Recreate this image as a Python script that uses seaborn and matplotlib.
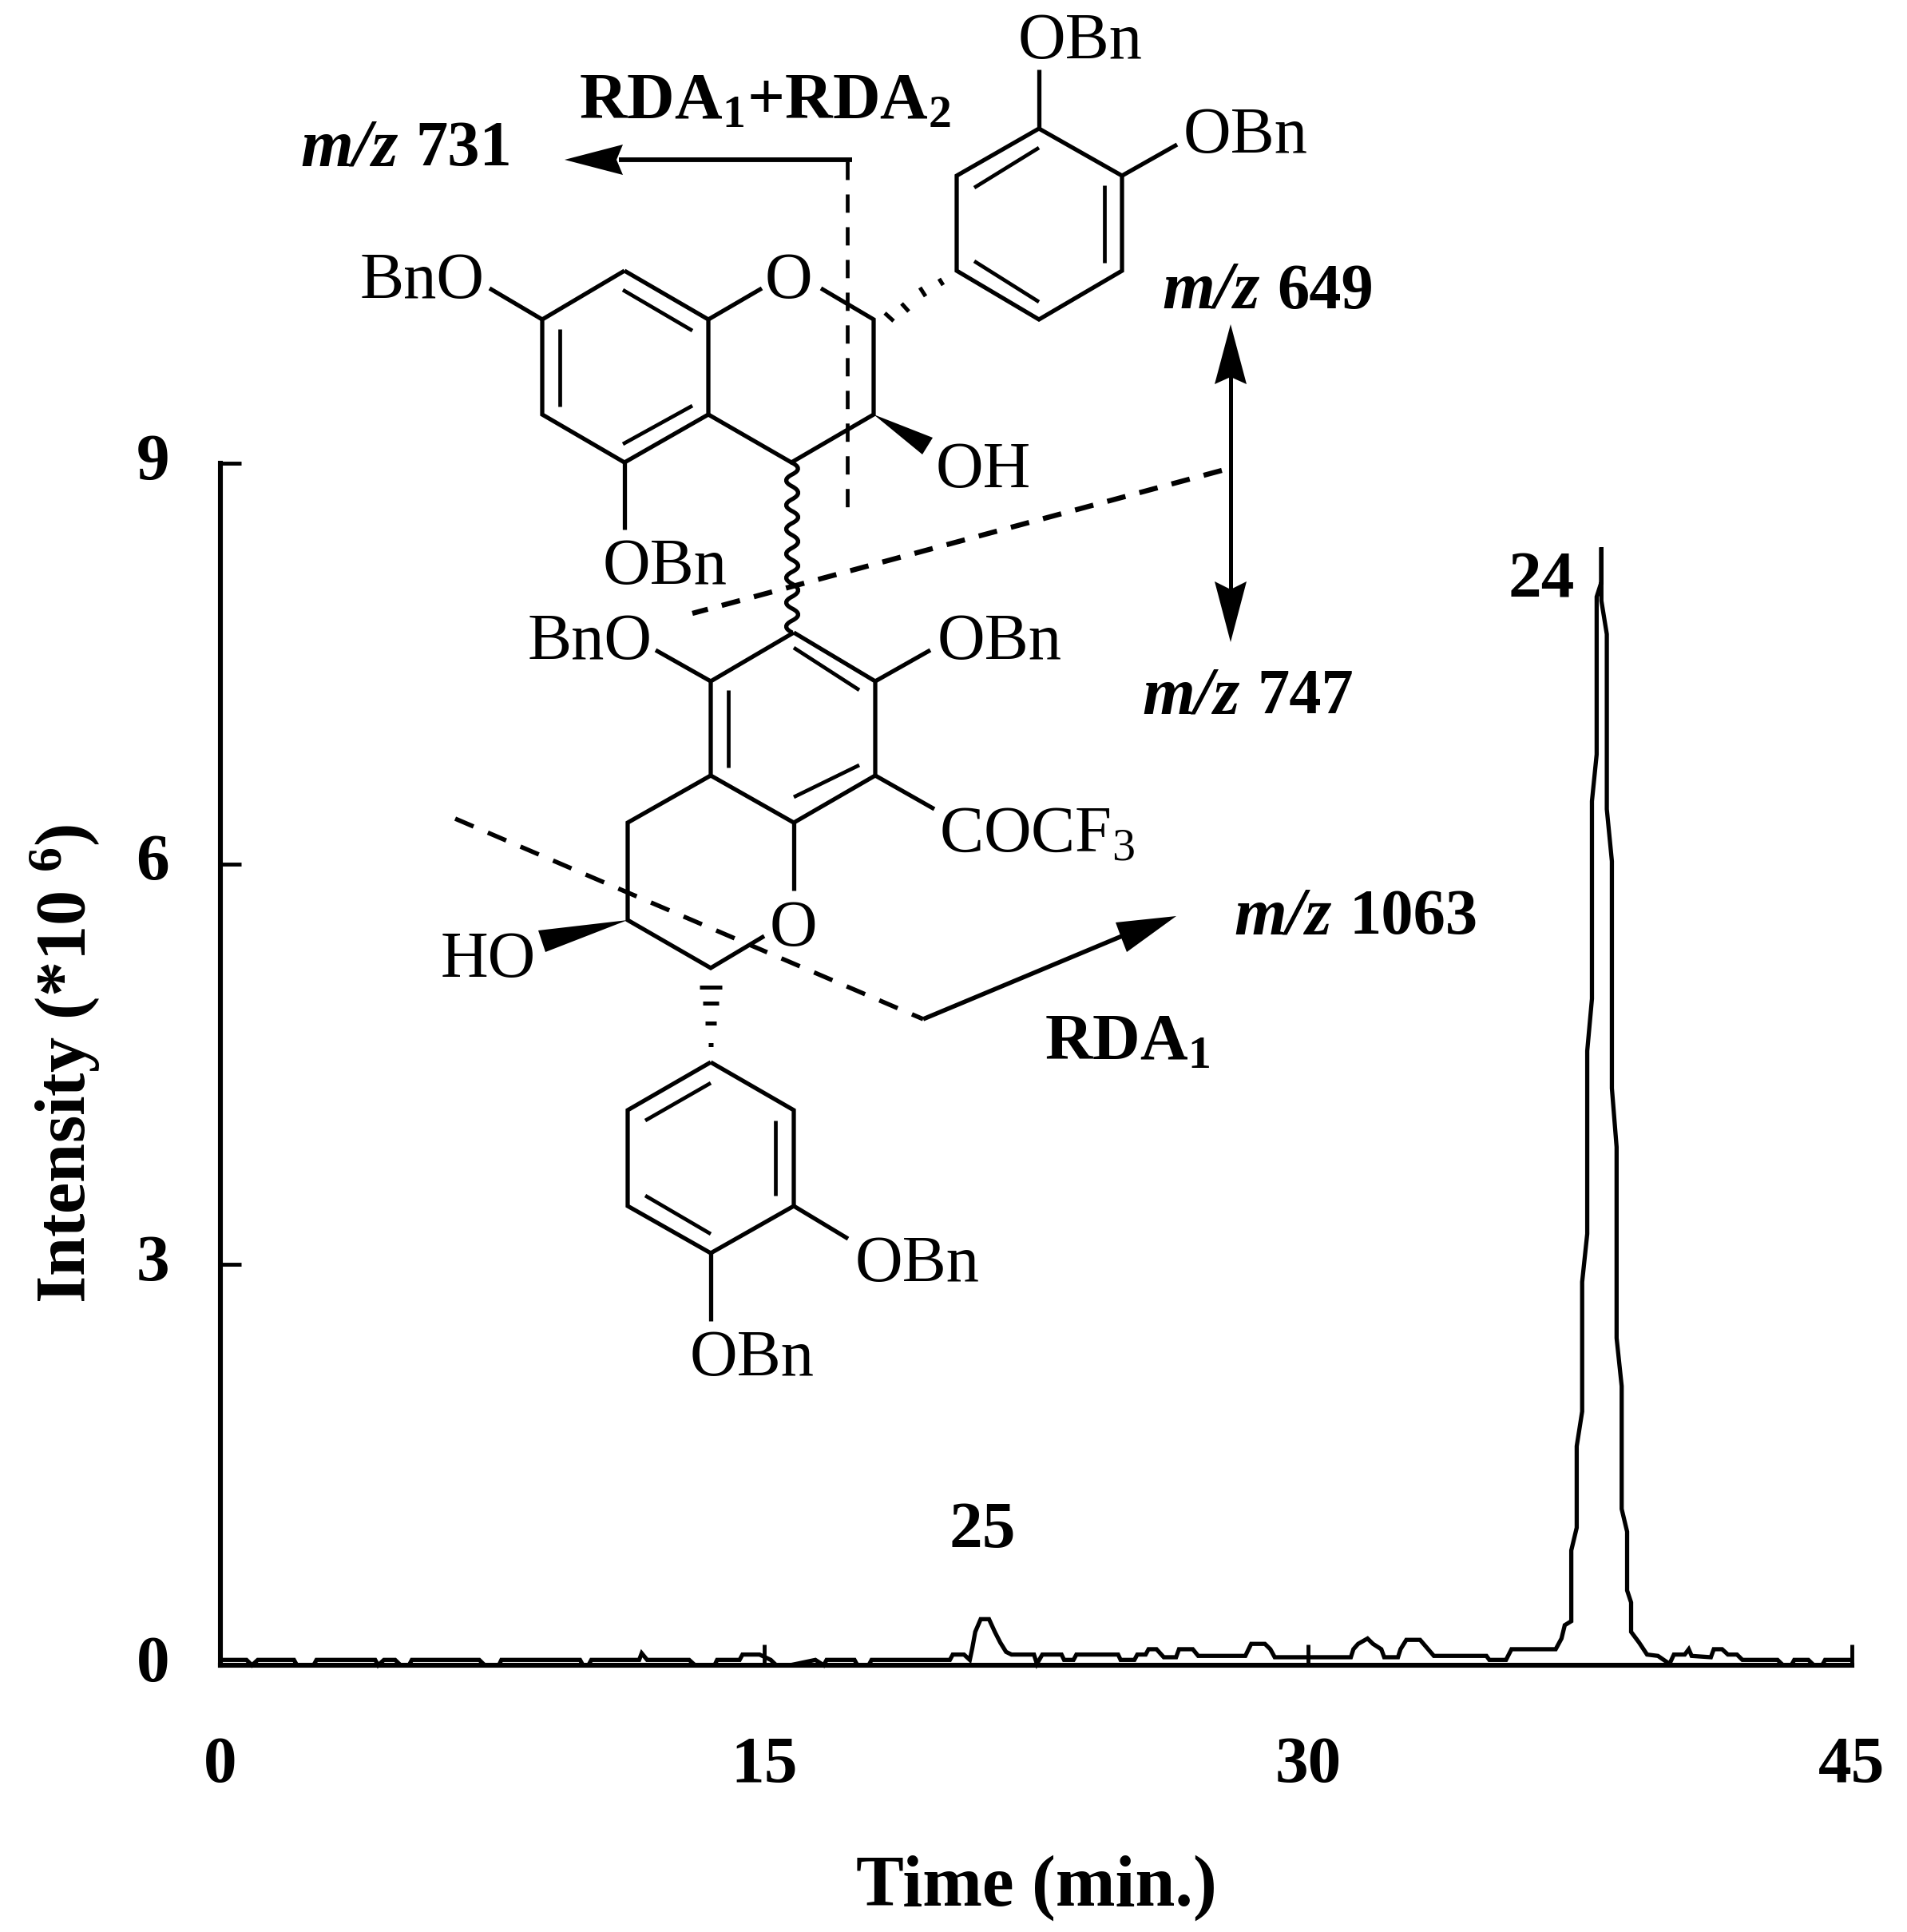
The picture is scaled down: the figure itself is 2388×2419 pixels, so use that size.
import pandas as pd
import matplotlib
matplotlib.use("Agg")
import matplotlib.pyplot as plt
import matplotlib.transforms as mtrans
import seaborn as sns
from matplotlib.collections import LineCollection
from matplotlib.path import Path
from matplotlib.patches import PathPatch, Polygon

# chromatogram trace
baselineTime = [0.02, 0.72, 0.87, 1.03, 2.03, 2.11, 2.57, 2.65, 4.27, 4.35, 4.51, 4.82, 4.97, 5.2, 5.28,
                7.14, 7.29, 7.68, 7.75, 9.92, 10.0, 10.15, 10.23, 11.55, 11.62, 11.77, 12.93, 13.09,
                13.63, 13.7, 14.32, 14.4, 14.87, 15.18, 15.33, 15.71, 16.41, 16.64, 16.72, 17.49,
                17.57, 17.88, 17.96, 20.12, 20.2, 20.51, 20.67]
baselineValue = [0.04, 0.04, 0.0, 0.04, 0.04, 0.0, 0.0, 0.04, 0.04, 0.0, 0.04, 0.04, 0.0, 0.0, 0.04,
                 0.04, 0.0, 0.0, 0.04, 0.04, 0.0, 0.0, 0.04, 0.04, 0.09, 0.04, 0.04, 0.0,
                 0.0, 0.04, 0.04, 0.08, 0.08, 0.04, 0.0, 0.0, 0.04, 0.0, 0.04, 0.04,
                 0.0, 0.0, 0.04, 0.04, 0.08, 0.08, 0.04]
peak25Time = [20.74, 20.82, 20.97, 21.2, 21.36, 21.51, 21.67, 21.82, 22.44, 22.52, 22.67, 23.2, 23.27,
              23.53, 23.61, 24.76, 24.83, 25.21, 25.29, 25.52, 25.6, 25.82, 26.02, 26.36, 26.44, 26.82,
              26.97, 28.27, 28.43, 28.81, 28.96, 29.08, 31.18, 31.25, 31.38, 31.64, 31.79, 32.02, 32.1,
              32.48, 32.55, 32.71, 33.09, 33.47, 34.92, 35.0, 35.46, 35.61, 36.83]
peak25Value = [0.13, 0.25, 0.345, 0.345, 0.25, 0.17, 0.1, 0.08, 0.08, 0.01, 0.08, 0.08, 0.04,
               0.04, 0.08, 0.08, 0.04, 0.04, 0.08, 0.08, 0.12, 0.12, 0.06, 0.06, 0.12, 0.12,
               0.07, 0.07, 0.16, 0.16, 0.12, 0.06, 0.06, 0.12, 0.16, 0.2, 0.16, 0.12, 0.06,
               0.06, 0.12, 0.19, 0.19, 0.07, 0.07, 0.04, 0.04, 0.12, 0.12]
peak24Time = [36.99, 37.08, 37.26, 37.26, 37.41, 37.41, 37.56, 37.56, 37.7, 37.7, 37.83, 37.83, 37.96, 37.96,
              38.09, 38.09, 38.09, 38.24, 38.24, 38.38, 38.38, 38.51, 38.51, 38.65, 38.65, 38.8, 38.8,
              38.91, 38.91, 39.13, 39.35, 39.65, 39.97]
peak24Value = [0.2, 0.3, 0.33, 0.86, 1.03, 1.64, 1.9, 2.87, 3.23, 4.6, 4.99, 6.47, 6.82, 8.0,
               8.11, 8.37, 7.97, 7.72, 6.41, 6.02, 4.32, 3.88, 2.45, 2.09, 1.17, 1.0, 0.56,
               0.47, 0.25, 0.17, 0.08, 0.07, 0.01]
tailTime = [40.09, 40.39, 40.5, 40.58, 41.11, 41.19, 41.42, 41.58, 41.83, 41.98, 42.95, 43.1, 43.33,
            43.41, 43.8, 43.95, 44.18, 44.26, 44.95]
tailValue = [0.08, 0.08, 0.12, 0.07, 0.06, 0.12, 0.12, 0.08, 0.08, 0.04, 0.04, 0.0, 0.0,
             0.04, 0.04, 0.0, 0.0, 0.04, 0.04]

xTicks = [0, 15, 30, 45]
yTicks = [0, 3, 6, 9]
peakLabels = ["24", "25"]

W, H = 2388, 2419
ATOM_PT = 59.5
BOLD_PT = 59.5
BOND = 3.8

sns.set_theme(style="white")
plt.rcParams['font.family'] = ['Liberation Serif', 'DejaVu Serif']
plt.rcParams['mathtext.fontset'] = 'custom'
plt.rcParams['mathtext.rm'] = 'Liberation Serif'
plt.rcParams['mathtext.bf'] = 'Liberation Serif:bold'
plt.rcParams['mathtext.default'] = 'regular'
plt.rcParams['lines.scale_dashes'] = False

traceDf = pd.DataFrame({
    "time": baselineTime + peak25Time + peak24Time + tailTime,
    "intensity": baselineValue + peak25Value + peak24Value + tailValue,
})

fig = plt.figure(figsize=(W/100, H/100), dpi=100, facecolor="white")
ax = fig.add_axes([276/W, 1-2085/H, (2319-276)/W, (2085-580)/H])
sns.lineplot(data=traceDf, x="time", y="intensity", estimator=None, sort=False,
             color="black", linewidth=3.8, ax=ax, clip_on=False)
ax.lines[0].set_solid_joinstyle("miter")
ax.set_xlim(0, 45)
ax.set_ylim(0, 9)
ax.set_xticks(xTicks)
ax.set_yticks(yTicks)
ax.set_xlabel("")
ax.set_ylabel("")
ax.patch.set_alpha(0)
sns.despine(ax=ax)
for side in ["left", "bottom"]:
    ax.spines[side].set_linewidth(4.4)
    ax.spines[side].set_color("black")
ax.tick_params(axis="both", direction="in", length=19, width=3.5, color="black", left=True, bottom=True)
ax.tick_params(axis="x", pad=64)
ax.tick_params(axis="y", pad=46)
for lab in ax.get_xticklabels() + ax.get_yticklabels():
    lab.set_fontsize(60)
    lab.set_fontweight("bold")
    lab.set_color("black")
# y labels sit a little above their ticks
nudge = mtrans.ScaledTranslation(0, 9/100, fig.dpi_scale_trans)
for lab in ax.get_yticklabels():
    lab.set_transform(lab.get_transform() + nudge)

# overlay in image pixels for the structure drawing
ov = fig.add_axes([0, 0, 1, 1])
ov.set_xlim(0, W)
ov.set_ylim(H, 0)
ov.set_axis_off()
ov.patch.set_alpha(0)


def txt(x, y, s, **kw):
    kw.setdefault("fontsize", ATOM_PT)
    kw.setdefault("color", "black")
    ov.text(x, y, s, ha=kw.pop("ha", "left"), va="baseline", **kw)


def mzLabel(x, y, value):
    txt(x, y, "m/z", fontweight="bold", fontstyle="italic", fontsize=61)
    txt(x+144, y, value, fontweight="bold", fontsize=58)


def chain(points, lw=BOND, closed=False):
    pts = points + [points[0]] if closed else points
    ov.plot([p[0] for p in pts], [p[1] for p in pts], color="black", lw=lw,
            solid_joinstyle="miter", solid_capstyle="butt")


# upper ring pair
chain([(782,339),(887,400),(887,519),(782,579),(679,519),(679,400)], closed=True)
chain([(887,519),(991,579),(1094,519),(1094,400),(1028,361)])
chain([(887,400),(954,361)])
chain([(679,400),(613,361)])
chain([(782,579),(782,663)])
chain([(1301,161),(1405,220),(1405,339),(1301,400),(1198,339),(1198,220)], closed=True)
chain([(1301,161),(1301,87)])
chain([(1405,220),(1474,181)])
# middle ring pair
chain([(994,792),(1096,853),(1096,971),(994,1030),(890,971),(890,853)], closed=True)
chain([(890,971),(786,1030),(786,1152),(890,1212),(957,1172)])
chain([(994,1030),(994,1115)])
chain([(890,853),(821,814)])
chain([(1096,853),(1165,814)])
chain([(1096,971),(1170,1013)])
# lower ring
chain([(890,1330),(994,1390),(994,1510),(890,1569),(786,1510),(786,1390)], closed=True)
chain([(994,1510),(1062,1551)])
chain([(890,1569),(890,1654)])

innerBonds = [
    [(780,363),(867,414)], [(701,412),(701,509)], [(780,556),(867,508)],
    [(1220,235),(1301,185)], [(1383,232),(1383,329)], [(1220,327),(1301,378)],
    [(994,811),(1076,864)], [(912,864),(912,961)], [(994,998),(1076,958)],
    [(808,1403),(890,1356)], [(971,1403),(971,1497)], [(808,1497),(890,1545)],
]
ov.add_collection(LineCollection(innerBonds, colors="black", linewidths=BOND-0.4))

# hashed bonds
hashBonds = [
    [(1108,392),(1119,402)], [(1129,380),(1138,390)], [(1152,360),(1159,371)], [(1176,349),(1181,357)],
    [(876,1236),(904,1236)], [(880,1256),(900,1256)], [(883,1281),(897,1281)], [(887,1308),(893,1308)],
]
ov.add_collection(LineCollection(hashBonds, colors="black", linewidths=3.6))

# solid wedges and arrow heads
heads = [
    [(1094,519),(1168,548),(1155,569)],
    [(786,1152),(674,1165),(683,1192)],
    [(707,200),(780,181),(772,200),(780,219)],
    [(1541,406),(1561,481),(1541,472),(1521,481)],
    [(1541,804),(1521,728),(1541,738),(1561,728)],
    [(1473,1147),(1397,1155),(1404,1174),(1411,1192)],
]
for head in heads:
    ov.add_patch(Polygon(head, closed=True, facecolor="black", edgecolor="none"))

# arrow shafts
chain([(1067,200),(775,200)], lw=4.2)
chain([(1541,470),(1541,740)], lw=3.6)
chain([(1156,1276),(1405,1172)], lw=4)

# dashed cut lines
ov.plot([1061,1061], [202,637], color="black", lw=3.4, dashes=(16.5,13))
ov.plot([1530,867], [589,768], color="black", lw=4.6, dashes=(17,13))
ov.plot([570,1156], [1025,1276], color="black", lw=4, dashes=(18,14))

# wavy bond between the two units
wavyY = [579, 594, 609, 625, 640, 655, 670, 686, 701, 716, 731, 747, 762, 777, 792]
verts = [(991, wavyY[0])]
codes = [Path.MOVETO]
for i in range(len(wavyY)-1):
    side = 15 if i % 2 == 0 else -15
    verts += [(992+side, (wavyY[i]+wavyY[i+1])/2), (992, wavyY[i+1])]
    codes += [Path.CURVE3, Path.CURVE3]
ov.add_patch(PathPatch(Path(verts, codes), facecolor="none", edgecolor="black", lw=BOND))

# atom labels
txt(1275, 73, "OBn")
txt(1482, 191, "OBn")
txt(451, 373, "BnO")
txt(958, 373, "O")
txt(1172, 610, "OH")
txt(755, 731, "OBn")
txt(661, 825, "BnO")
txt(1174, 825, "OBn")
txt(1176, 1066, r"COCF$_{3}$")
txt(964, 1184, "O")
txt(552, 1223, "HO")
txt(1071, 1604, "OBn")
txt(864, 1722, "OBn")

# fragment labels
txt(725, 148, r"RDA$_{\mathbf{1}}$+RDA$_{\mathbf{2}}$", fontweight="bold", fontsize=BOLD_PT)
txt(1308, 1326, r"RDA$_{\mathbf{1}}$", fontweight="bold", fontsize=BOLD_PT)
mzLabel(376, 207, "731")
mzLabel(1455, 386, "649")
mzLabel(1430, 893, "747")
mzLabel(1545, 1169, "1063")

# peak numbers and axis titles
txt(1888, 748, peakLabels[0], fontweight="bold", fontsize=60)
txt(1188, 1937, peakLabels[1], fontweight="bold", fontsize=60)
txt(1298, 2386, "Time (min.)", fontweight="bold", ha="center", fontsize=64.5)
ov.text(81, 1332, r"Intensity (*10 $^{\mathbf{6}}$)", fontsize=63.5, fontweight="bold", color="black",
        rotation=90, ha="center", va="center", rotation_mode="anchor")

fig.savefig("out.png", dpi=100)
